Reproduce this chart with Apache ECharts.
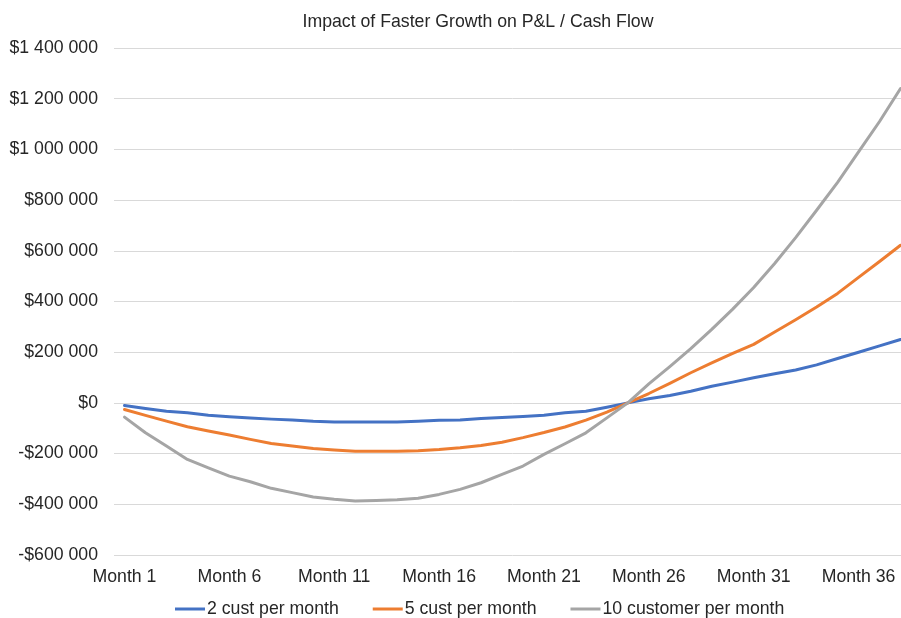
<!DOCTYPE html>
<html>
<head>
<meta charset="utf-8">
<script src="https://cdn.jsdelivr.net/npm/echarts@6/dist/echarts.min.js"></script>
<style>
  html, body { margin: 0; padding: 0; background: #ffffff; overflow: hidden; width: 901px; height: 618px; }
  /* the plot runs slightly past the right edge of the page */
  #chart { width: 911px; height: 618px; }
</style>
</head>
<body>
<div id="chart"></div>
<script>
// Monthly cumulative P&L / cash position for three growth rates
const months = [];
for (let i = 1; i <= 38; i++) months.push('Month ' + i);

const twoCust = [
  -10000, -22000, -33000, -39000, -49000, -55000, -60000, -64000, -67000, -72000,
  -75000, -75000, -75000, -75000, -72000, -68000, -67000, -62000, -58000, -54000,
  -49000, -39000, -33000, -17000, 0, 16000, 29000, 46000, 66000, 82000,
  99000, 115000, 130000, 150000, 175000, 200000, 225000, 250000
];

const fiveCust = [
  -26000, -49000, -72000, -94000, -111000, -127000, -144000, -160000, -170000, -180000,
  -186000, -191000, -191000, -191000, -189000, -184000, -177000, -168000, -155000, -137000,
  -117000, -95000, -68000, -36000, 0, 37000, 77000, 119000, 158000, 195000,
  231000, 280000, 328000, 378000, 432000, 495000, 558000, 622000
];

const tenCust = [
  -56000, -118000, -170000, -223000, -256000, -289000, -311000, -337000, -354000, -371000,
  -380000, -387000, -385000, -382000, -376000, -361000, -341000, -315000, -282000, -249000,
  -203000, -161000, -118000, -59000, 0, 75000, 143000, 214000, 290000, 370000,
  455000, 550000, 652000, 760000, 870000, 990000, 1110000, 1240000
];

const seriesNames = ['2 cust per month', '5 cust per month', '10 customer per month'];
const seriesColors = ['#4472C4', '#ED7D31', '#A5A5A5'];
const seriesData = [twoCust, fiveCust, tenCust];

function money(v) {
  const sign = v < 0 ? '-' : '';
  const s = Math.abs(v).toString().replace(/\B(?=(\d{3})+(?!\d))/g, ' ');
  return sign + '$' + s;
}

const chart = echarts.init(document.getElementById('chart'), null, { renderer: 'canvas' });
const font = 'Liberation Sans, Arial, sans-serif';
const fs = 17.7;
const ink = '#262626';

chart.setOption({
  animation: false,
  backgroundColor: '#ffffff',
  textStyle: { fontFamily: font },
  title: {
    text: 'Impact of Faster Growth on P&L / Cash Flow',
    left: 473,
    top: 8,
    textAlign: 'center',
    textStyle: { fontFamily: font, fontSize: fs, fontWeight: 'normal', color: ink }
  },
  legend: {
    top: 600,
    left: 175,
    padding: 0,
    icon: 'rect',
    itemWidth: 30,
    itemHeight: 3,
    itemGap: 34,
    textStyle: { fontFamily: font, fontSize: fs, color: ink, padding: [0, 0, 0, -3] },
    data: seriesNames
  },
  grid: { left: 114, top: 48, right: 0, height: 507, containLabel: false },
  xAxis: {
    type: 'category',
    data: months,
    boundaryGap: true,
    axisLine: { show: false },
    axisTick: { show: false },
    axisLabel: {
      interval: 4,
      fontSize: fs,
      color: ink,
      margin: 13,
      fontFamily: font
    },
    splitLine: { show: false }
  },
  yAxis: {
    type: 'value',
    min: -600000,
    max: 1400000,
    interval: 200000,
    axisLine: { show: false },
    axisTick: { show: false },
    axisLabel: {
      formatter: money,
      fontSize: fs,
      color: ink,
      margin: 16,
      fontFamily: font
    },
    splitLine: { lineStyle: { color: '#d9d9d9', width: 1 } }
  },
  series: seriesNames.map((name, i) => ({
    name: name,
    type: 'line',
    data: seriesData[i],
    symbol: 'none',
    smooth: false,
    lineStyle: { color: seriesColors[i], width: 3, cap: 'round', join: 'round' },
    itemStyle: { color: seriesColors[i] }
  }))
});
</script>
</body>
</html>
